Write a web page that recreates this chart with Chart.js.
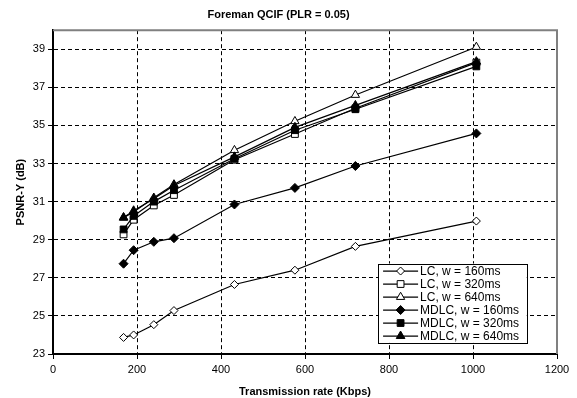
<!DOCTYPE html>
<html>
<head>
<meta charset="utf-8">
<script src="https://cdn.jsdelivr.net/npm/chart.js@4/dist/chart.umd.min.js"></script>
<style>
  html, body { margin: 0; padding: 0; background: #fff; }
  #wrap { width: 577px; height: 398px; position: relative; }
</style>
</head>
<body>
<div id="wrap"><canvas id="c" width="577" height="398"></canvas></div>
<script>
// ---- data ----
const chartTitle = 'Foreman QCIF (PLR = 0.05)';
const xTitle = 'Transmission rate (Kbps)';
const yTitle = 'PSNR-Y (dB)';
const rates = [168, 192, 240, 288, 432, 576, 720, 1008];
const seriesNames = ['LC, w = 160ms', 'LC, w = 320ms', 'LC, w = 640ms', 'MDLC, w = 160ms', 'MDLC, w = 320ms', 'MDLC, w = 640ms'];
const lc160   = [23.87, 24.00, 24.54, 25.28, 26.65, 27.40, 28.65, 29.98];
const lc320   = [29.28, 30.05, 30.80, 31.35, 33.20, 34.55, 35.90, 38.30];
const lc640   = [30.15, 30.45, 31.20, 31.90, 33.70, 35.22, 36.60, 39.12];
const mdlc160 = [27.74, 28.45, 28.89, 29.08, 30.85, 31.72, 32.87, 34.58];
const mdlc320 = [29.54, 30.25, 31.00, 31.60, 33.25, 34.75, 35.85, 38.10];
const mdlc640 = [30.17, 30.52, 31.15, 31.85, 33.35, 34.90, 36.05, 38.35];
const xTicks = [0, 200, 400, 600, 800, 1000, 1200];
const yTicks = [23, 25, 27, 29, 31, 33, 35, 37, 39];

// ---- styles ----
const FONT = '"Liberation Sans", Arial, sans-serif';
const seriesValues = [lc160, lc320, lc640, mdlc160, mdlc320, mdlc640];
const markerStyles = [
  { pointStyle: 'rectRot', fill: '#ffffff', r: 4 },
  { pointStyle: 'rect', fill: '#ffffff', r: 4.8 },
  { pointStyle: 'triangle', fill: '#ffffff', r: 4.8 },
  { pointStyle: 'rectRot', fill: '#000000', r: 4.5 },
  { pointStyle: 'rect', fill: '#000000', r: 4.8 },
  { pointStyle: 'triangle', fill: '#000000', r: 5 }
];

const datasets = seriesValues.map((vals, i) => ({
  label: seriesNames[i],
  data: vals.map((v, j) => ({ x: rates[j], y: v })),
  borderColor: '#000',
  borderWidth: 1.2,
  backgroundColor: markerStyles[i].fill,
  pointStyle: markerStyles[i].pointStyle,
  pointRadius: markerStyles[i].r,
  pointBackgroundColor: markerStyles[i].fill,
  pointBorderColor: '#000',
  pointBorderWidth: 1,
  tension: 0,
  fill: false,
  order: 5 - i
}));

const framePlugin = {
  id: 'frame',
  beforeDatasetsDraw(chart) {
    const { ctx, chartArea: a } = chart;
    ctx.save();
    ctx.strokeStyle = '#808080';
    ctx.lineWidth = 2;
    ctx.beginPath();
    ctx.moveTo(a.left, a.top);
    ctx.lineTo(a.right, a.top);
    ctx.lineTo(a.right, a.bottom);
    ctx.stroke();
    ctx.restore();
  }
};

const legendPlugin = {
  id: 'boxLegend',
  afterDraw(chart) {
    const { ctx } = chart;
    const xs = chart.scales.x, ys = chart.scales.y;
    const left = xs.getPixelForValue(774);
    const right = xs.getPixelForValue(1128);
    const top = ys.getPixelForValue(27.75);
    const rowH = 13;
    const bottom = top + rowH * seriesNames.length + 1;
    ctx.save();
    ctx.fillStyle = '#fff';
    ctx.fillRect(left, top, right - left, bottom - top);
    ctx.strokeStyle = '#000';
    ctx.lineWidth = 1;
    ctx.strokeRect(Math.round(left) + 0.5, Math.round(top) + 0.5, Math.round(right - left), Math.round(bottom - top));
    ctx.font = '12px ' + FONT;
    ctx.textBaseline = 'middle';
    ctx.textAlign = 'left';
    seriesNames.forEach((name, i) => {
      const cy = top + 7.5 + i * rowH;
      const lx1 = left + 5, lx2 = left + 40;
      ctx.strokeStyle = '#000';
      ctx.lineWidth = 1.2;
      ctx.beginPath();
      ctx.moveTo(lx1, cy);
      ctx.lineTo(lx2, cy);
      ctx.stroke();
      ctx.fillStyle = markerStyles[i].fill;
      ctx.strokeStyle = '#000';
      ctx.lineWidth = 1;
      Chart.helpers.drawPoint(ctx, { pointStyle: markerStyles[i].pointStyle, radius: markerStyles[i].r, borderWidth: 1, rotation: 0 }, (lx1 + lx2) / 2, cy);
      ctx.fillStyle = '#000';
      ctx.fillText(name, lx2 + 2, cy + 0.5);
    });
    ctx.restore();
  }
};

new Chart(document.getElementById('c'), {
  type: 'line',
  data: { datasets },
  plugins: [framePlugin, legendPlugin],
  options: {
    responsive: false,
    animation: false,
    devicePixelRatio: 1,
    layout: { padding: { left: 0, right: 20, top: 0, bottom: 0 } },
    plugins: {
      legend: { display: false },
      tooltip: { enabled: false },
      title: {
        display: true,
        text: chartTitle,
        color: '#000',
        font: { family: FONT, size: 11, weight: 'bold', lineHeight: 1.2 },
        padding: { top: 8, bottom: 9 }
      }
    },
    scales: {
      x: {
        type: 'linear',
        min: 0, max: 1200,
        afterBuildTicks: (s) => { s.ticks = xTicks.map(v => ({ value: v })); },
        afterFit: (s) => { s.height = 44; },
        ticks: { color: '#000', font: { family: FONT, size: 11 }, padding: 4, maxRotation: 0, autoSkip: false, callback: (v) => String(v) },
        grid: {
          color: (c) => (c.tick && (c.tick.value === 0 || c.tick.value === 1200)) ? 'rgba(0,0,0,0)' : '#000',
          lineWidth: 1,
          tickColor: '#000',
          tickLength: 5,
          tickWidth: 1
        },
        border: { display: true, color: '#000', width: 2, dash: [4, 3] },
        title: {
          display: true, text: xTitle, color: '#000',
          font: { family: FONT, size: 11, weight: 'bold', lineHeight: 1 },
          padding: { top: 0, bottom: 1 }
        }
      },
      y: {
        type: 'linear',
        min: 23, max: 40,
        afterBuildTicks: (s) => { s.ticks = yTicks.map(v => ({ value: v })); },
        afterFit: (s) => { s.width = 53; },
        ticks: { color: '#000', font: { family: FONT, size: 11 }, padding: 3, autoSkip: false, callback: (v) => String(v) },
        grid: {
          color: (c) => (c.tick && (c.tick.value === 23 || c.tick.value === 40)) ? 'rgba(0,0,0,0)' : '#000',
          lineWidth: 1,
          tickColor: '#000',
          tickLength: 5,
          tickWidth: 1
        },
        border: { display: true, color: '#000', width: 2, dash: [4, 3] },
        title: {
          display: true, text: yTitle, color: '#000',
          font: { family: FONT, size: 11, weight: 'bold', lineHeight: 1.2 },
          padding: { top: 14, bottom: 0 }
        }
      }
    }
  }
});
</script>
</body>
</html>
